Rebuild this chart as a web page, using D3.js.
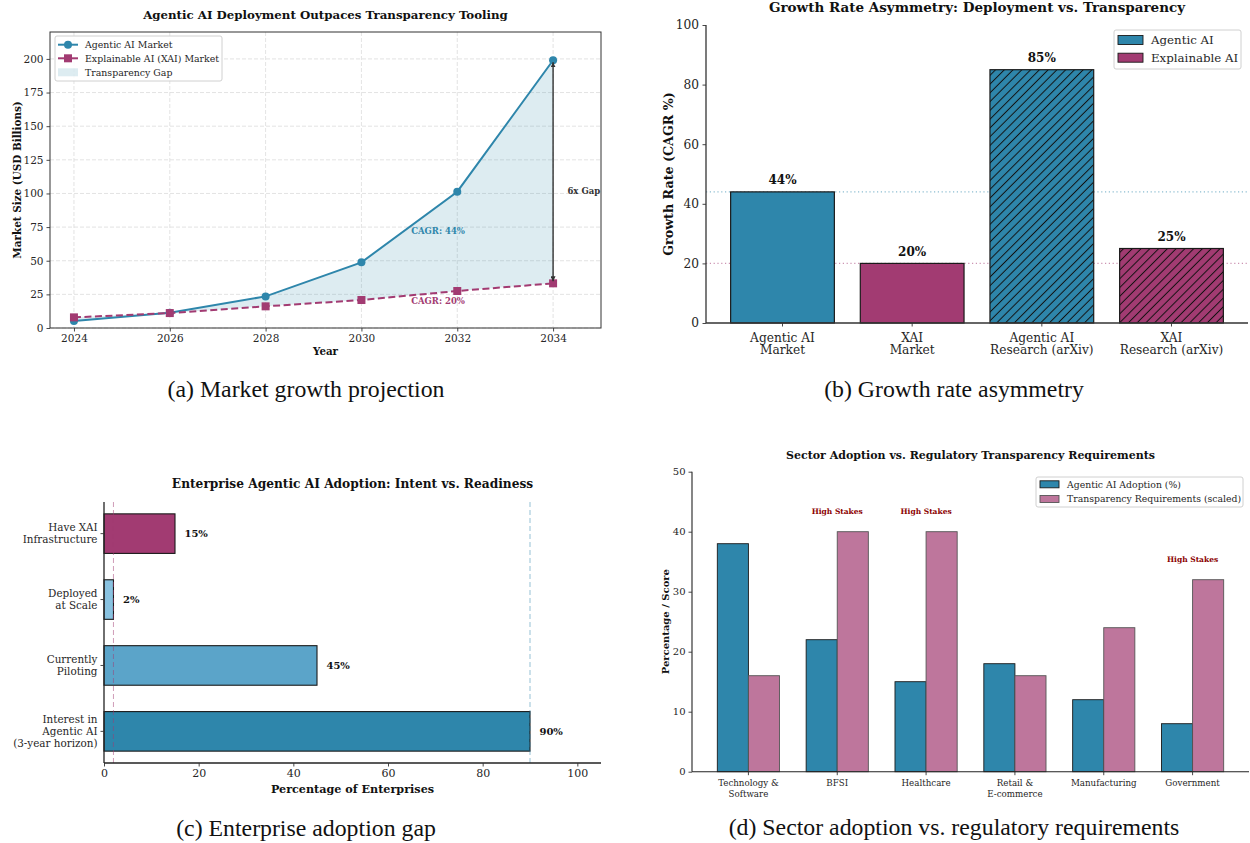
<!DOCTYPE html>
<html>
<head>
<meta charset="utf-8">
<script src="https://cdn.jsdelivr.net/npm/d3@7"></script>
<style>
  body { margin: 0; background: #fff; }
  svg { display: block; }
</style>
</head>
<body>
<svg id="fig" width="1250" height="843"></svg>
<script>
// ---------- (a) market growth projection ----------
const years = [2024, 2026, 2028, 2030, 2032, 2034];
const agenticMarket = [5.2, 11.3, 23.5, 48.8, 101.3, 199];
const xaiMarket = [7.9, 11.1, 16.1, 20.8, 27.5, 33.2];
const marketTicks = [0, 25, 50, 75, 100, 125, 150, 175, 200];

// ---------- (b) growth rate asymmetry ----------
const growthCategories = ["Agentic AI\nMarket", "XAI\nMarket", "Agentic AI\nResearch (arXiv)", "XAI\nResearch (arXiv)"];
const growthValues = [44, 20, 85, 25];
const growthSeries = ["agentic", "xai", "agentic", "xai"];
const growthHatched = [false, false, true, true];
const growthTicks = [0, 20, 40, 60, 80, 100];

// ---------- (c) enterprise adoption gap ----------
const adoptionStages = ["Interest in\nAgentic AI\n(3-year horizon)", "Currently\nPiloting", "Deployed\nat Scale", "Have XAI\nInfrastructure"];
const adoptionValues = [90, 45, 2, 15];
const adoptionColors = ["#2E86AB", "#5BA4C9", "#89C2E0", "#A23B72"];
const adoptionTicks = [0, 20, 40, 60, 80, 100];

// ---------- (d) sector adoption vs. regulation ----------
const sectors = ["Technology &\nSoftware", "BFSI", "Healthcare", "Retail &\nE-commerce", "Manufacturing", "Government"];
const sectorAdoption = [38, 22, 15, 18, 12, 8];
const sectorTransparency = [16, 40, 40, 16, 24, 32];
const sectorHighStakes = [false, true, true, false, false, true];
const sectorTicks = [0, 10, 20, 30, 40, 50];

const BLUE = "#2E86AB";
const MAG = "#A23B72";
const PINK = "#be769c";
const SERIF = '"DejaVu Serif", serif';
const CAPTION = '"Liberation Serif", "Times New Roman", serif';
const INK = "#262626";

const svg = d3.select("#fig");
svg.append("rect").attr("width", 1250).attr("height", 843).attr("fill", "#fff");
const defs = svg.append("defs");

// diagonal hatch fills for the research bars
function hatch(id, color) {
  const p = defs.append("pattern")
    .attr("id", id)
    .attr("patternUnits", "userSpaceOnUse")
    .attr("width", 6.2).attr("height", 6.2)
    .attr("patternTransform", "rotate(45)");
  p.append("rect").attr("width", 6.2).attr("height", 6.2).attr("fill", color);
  p.append("line").attr("x1", 3.1).attr("x2", 3.1).attr("y1", 0).attr("y2", 6.2)
    .attr("stroke", "#111").attr("stroke-width", 1);
}
hatch("hatch-agentic", BLUE);
hatch("hatch-xai", MAG);

defs.append("marker")
  .attr("id", "gap-arrow")
  .attr("viewBox", "0 0 10 10")
  .attr("refX", 10).attr("refY", 5)
  .attr("markerWidth", 5).attr("markerHeight", 5)
  .attr("markerUnits", "userSpaceOnUse")
  .attr("orient", "auto-start-reverse")
  .append("path").attr("d", "M0,0 L10,5 L0,10 z").attr("fill", "#333");

function styleAxis(g, size) {
  g.select(".domain").remove();
  g.selectAll(".tick line").attr("stroke", "#333").attr("stroke-width", 0.9);
  g.selectAll(".tick text").attr("font-family", SERIF).attr("font-size", size).attr("fill", INK);
}

// split "a\nb" tick labels into stacked tspans
function stackLines(g, lineHeight, firstDy, anchor) {
  g.selectAll(".tick text").each(function (d) {
    const t = d3.select(this);
    const lines = String(d).split("\n");
    const x = +t.attr("x") || 0;
    t.text(null).attr("dy", null).attr("text-anchor", anchor);
    const off = typeof firstDy === "function" ? firstDy(lines.length) : firstDy;
    lines.forEach((ln, i) => {
      t.append("tspan").attr("x", x).attr("dy", i === 0 ? off : lineHeight).text(ln);
    });
  });
}

function label(g, txt, x, y, size, opts = {}) {
  return g.append("text")
    .attr("x", x).attr("y", y)
    .attr("font-family", opts.family || SERIF)
    .attr("font-size", size)
    .attr("font-weight", opts.bold ? "bold" : "normal")
    .attr("text-anchor", opts.anchor || "middle")
    .attr("fill", opts.fill || INK)
    .text(txt);
}

function yLabel(g, txt, x, y, size) {
  g.append("text")
    .attr("transform", `translate(${x},${y}) rotate(-90)`)
    .attr("font-family", SERIF).attr("font-size", size).attr("font-weight", "bold")
    .attr("text-anchor", "middle").attr("fill", "#111")
    .text(txt);
}

// ================= panel (a) =================
(function () {
  const box = { l: 50, r: 601, t: 32, b: 328 };
  const g = svg.append("g");
  const x = d3.scaleLinear().domain([2023.5, 2035]).range([box.l, box.r]);
  const y = d3.scaleLinear().domain([0, 220]).range([box.b, box.t]);

  // grid
  g.append("g").selectAll("line").data(years).join("line")
    .attr("x1", d => x(d)).attr("x2", d => x(d)).attr("y1", box.t).attr("y2", box.b)
    .attr("stroke", "#dcdcdc").attr("stroke-width", 0.8).attr("stroke-dasharray", "4,2");
  g.append("g").selectAll("line").data(marketTicks).join("line")
    .attr("x1", box.l).attr("x2", box.r).attr("y1", d => y(d)).attr("y2", d => y(d))
    .attr("stroke", "#dcdcdc").attr("stroke-width", 0.8).attr("stroke-dasharray", "4,2");

  const pts = years.map((yr, i) => ({ yr, a: agenticMarket[i], x: xaiMarket[i] }));

  // transparency gap
  g.append("path").datum(pts)
    .attr("d", d3.area().x(d => x(d.yr)).y0(d => y(d.x)).y1(d => y(d.a)))
    .attr("fill", BLUE).attr("fill-opacity", 0.16);

  g.append("path").datum(pts)
    .attr("d", d3.line().x(d => x(d.yr)).y(d => y(d.a)))
    .attr("fill", "none").attr("stroke", BLUE).attr("stroke-width", 2);
  g.append("path").datum(pts)
    .attr("d", d3.line().x(d => x(d.yr)).y(d => y(d.x)))
    .attr("fill", "none").attr("stroke", MAG).attr("stroke-width", 2)
    .attr("stroke-dasharray", "7,3.5");

  g.append("g").selectAll("circle").data(pts).join("circle")
    .attr("cx", d => x(d.yr)).attr("cy", d => y(d.a)).attr("r", 4).attr("fill", BLUE);
  g.append("g").selectAll("rect").data(pts).join("rect")
    .attr("x", d => x(d.yr) - 4).attr("y", d => y(d.x) - 4)
    .attr("width", 8).attr("height", 8).attr("fill", MAG);

  // gap arrow between the 2034 values
  const last = pts[pts.length - 1];
  g.append("line")
    .attr("x1", x(last.yr)).attr("x2", x(last.yr))
    .attr("y1", y(last.a) + 2).attr("y2", y(last.x) - 2)
    .attr("stroke", "#333").attr("stroke-width", 1.4)
    .attr("marker-start", "url(#gap-arrow)").attr("marker-end", "url(#gap-arrow)");
  label(g, "6x Gap", x(2034.3), y(100) + 1, 8.5, { bold: true, anchor: "start", fill: "#333" });
  label(g, "CAGR: 44%", x(2031.6), y(69.5), 8.5, { bold: true, fill: BLUE });
  label(g, "CAGR: 20%", x(2031.6), y(17.5), 8.5, { bold: true, fill: MAG });

  // frame
  g.append("rect").attr("x", box.l).attr("y", box.t)
    .attr("width", box.r - box.l).attr("height", box.b - box.t)
    .attr("fill", "none").attr("stroke", "#333").attr("stroke-width", 1);

  const ax = g.append("g").attr("transform", `translate(0,${box.b})`)
    .call(d3.axisBottom(x).tickValues(years).tickFormat(d3.format("d")).tickSize(3.5).tickPadding(3));
  styleAxis(ax, 10.5);
  const ay = g.append("g").attr("transform", `translate(${box.l},0)`)
    .call(d3.axisLeft(y).tickValues(marketTicks).tickSize(3.5).tickPadding(3));
  styleAxis(ay, 10.5);

  label(g, "Agentic AI Deployment Outpaces Transparency Tooling", (box.l + box.r) / 2, 19, 11.8, { bold: true, fill: "#111" });
  label(g, "Year", (box.l + box.r) / 2, 355, 10.3, { bold: true, fill: "#111" });
  yLabel(g, "Market Size (USD Billions)", 20.5, (box.t + box.b) / 2, 10.4);

  // legend
  const lg = g.append("g").attr("transform", "translate(55,36)");
  lg.append("rect").attr("width", 167).attr("height", 45).attr("rx", 2)
    .attr("fill", "#fff").attr("fill-opacity", 0.85).attr("stroke", "#d0d0d0");
  const rows = [8.7, 22.3, 36.3];
  lg.append("line").attr("x1", 3).attr("x2", 23).attr("y1", rows[0]).attr("y2", rows[0])
    .attr("stroke", BLUE).attr("stroke-width", 2);
  lg.append("circle").attr("cx", 13).attr("cy", rows[0]).attr("r", 4).attr("fill", BLUE);
  lg.append("line").attr("x1", 3).attr("x2", 23).attr("y1", rows[1]).attr("y2", rows[1])
    .attr("stroke", MAG).attr("stroke-width", 2);
  lg.append("rect").attr("x", 9).attr("y", rows[1] - 4).attr("width", 8).attr("height", 8).attr("fill", MAG);
  lg.append("rect").attr("x", 3).attr("y", rows[2] - 4).attr("width", 20).attr("height", 8)
    .attr("fill", BLUE).attr("fill-opacity", 0.16);
  ["Agentic AI Market", "Explainable AI (XAI) Market", "Transparency Gap"].forEach((t, i) => {
    label(lg, t, 30, rows[i] + 3.4, 9.4, { anchor: "start" });
  });

  label(svg, "(a) Market growth projection", 306, 397, 23.8, { family: CAPTION, fill: "#111" });
})();

// ================= panel (b) =================
(function () {
  const box = { l: 706, r: 1248, t: 25, b: 323 };
  const g = svg.append("g");
  const x = d3.scaleBand().domain(growthCategories).range([box.l, box.r])
    .paddingInner(0.2).paddingOuter(0.19);
  const y = d3.scaleLinear().domain([0, 100]).range([box.b, box.t]);

  // reference levels for the two market CAGRs
  [[growthValues[0], BLUE], [growthValues[1], MAG]].forEach(([v, c]) => {
    g.append("line").attr("x1", box.l).attr("x2", box.r).attr("y1", y(v)).attr("y2", y(v))
      .attr("stroke", c).attr("stroke-opacity", 0.55).attr("stroke-width", 1.1)
      .attr("stroke-dasharray", "1.2,2.6");
  });

  const data = growthCategories.map((c, i) => ({
    c, v: growthValues[i], s: growthSeries[i], h: growthHatched[i]
  }));
  g.append("g").selectAll("rect").data(data).join("rect")
    .attr("x", d => x(d.c)).attr("width", x.bandwidth())
    .attr("y", d => y(d.v)).attr("height", d => y(0) - y(d.v))
    .attr("fill", d => d.h ? `url(#hatch-${d.s})` : (d.s === "agentic" ? BLUE : MAG))
    .attr("stroke", "#1a1a1a").attr("stroke-width", 1.2);

  g.append("g").selectAll("text").data(data).join("text")
    .attr("x", d => x(d.c) + x.bandwidth() / 2).attr("y", d => y(d.v + 2.6))
    .attr("text-anchor", "middle").attr("font-family", SERIF).attr("font-size", 12)
    .attr("font-weight", "bold").attr("fill", "#111")
    .text(d => d.v + "%");

  // spines
  g.append("line").attr("x1", box.l).attr("x2", box.l).attr("y1", box.t).attr("y2", box.b)
    .attr("stroke", "#333").attr("stroke-width", 1.3);
  g.append("line").attr("x1", box.l).attr("x2", box.r).attr("y1", box.b).attr("y2", box.b)
    .attr("stroke", "#333").attr("stroke-width", 1.3);

  const ax = g.append("g").attr("transform", `translate(0,${box.b})`)
    .call(d3.axisBottom(x).tickSize(3.5).tickPadding(3));
  styleAxis(ax, 12.2);
  stackLines(ax, 12.6, "1.0em", "middle");

  const ay = g.append("g").attr("transform", `translate(${box.l},0)`)
    .call(d3.axisLeft(y).tickValues(growthTicks).tickSize(3.5).tickPadding(3.5));
  styleAxis(ay, 12.2);

  label(g, "Growth Rate Asymmetry: Deployment vs. Transparency", (box.l + box.r) / 2, 11.5, 13.5, { bold: true, fill: "#111" });
  yLabel(g, "Growth Rate (CAGR %)", 672.5, (box.t + box.b) / 2, 12.7);

  const lg = g.append("g").attr("transform", "translate(1114,30)");
  lg.append("rect").attr("width", 127).attr("height", 39).attr("rx", 2)
    .attr("fill", "#fff").attr("stroke", "#d0d0d0");
  [["Agentic AI", BLUE], ["Explainable AI", MAG]].forEach(([t, c], i) => {
    const cy = 10 + i * 17.7;
    lg.append("rect").attr("x", 4).attr("y", cy - 4.5).attr("width", 25).attr("height", 9)
      .attr("fill", c).attr("stroke", "#1a1a1a").attr("stroke-width", 0.9);
    label(lg, t, 37, cy + 4.2, 11.8, { anchor: "start" });
  });

  label(svg, "(b) Growth rate asymmetry", 954, 397, 23.8, { family: CAPTION, fill: "#111" });
})();

// ================= panel (c) =================
(function () {
  const box = { l: 104, r: 601, t: 502, b: 763 };
  const g = svg.append("g");
  const x = d3.scaleLinear().domain([0, 105]).range([box.l, box.r]);
  const y = d3.scaleBand().domain(adoptionStages).range([box.b, box.t])
    .paddingInner(0.4).paddingOuter(0.18);

  const data = adoptionStages.map((s, i) => ({ s, v: adoptionValues[i], c: adoptionColors[i] }));

  g.append("g").selectAll("rect").data(data).join("rect")
    .attr("x", x(0)).attr("width", d => x(d.v) - x(0))
    .attr("y", d => y(d.s)).attr("height", y.bandwidth())
    .attr("fill", d => d.c).attr("stroke", "#1a1a1a").attr("stroke-width", 1.1);

  // markers for the deployed-at-scale and interest levels
  [[adoptionValues[2], MAG], [adoptionValues[0], BLUE]].forEach(([v, c]) => {
    g.append("line").attr("x1", x(v)).attr("x2", x(v)).attr("y1", box.t).attr("y2", box.b)
      .attr("stroke", c).attr("stroke-opacity", 0.5).attr("stroke-width", 1)
      .attr("stroke-dasharray", "5,3");
  });

  g.append("g").selectAll("text").data(data).join("text")
    .attr("x", d => x(d.v + 2)).attr("y", d => y(d.s) + y.bandwidth() / 2 + 3.6)
    .attr("font-family", SERIF).attr("font-size", 10).attr("font-weight", "bold").attr("fill", "#111")
    .text(d => d.v + "%");

  g.append("line").attr("x1", box.l).attr("x2", box.l).attr("y1", box.t).attr("y2", box.b)
    .attr("stroke", "#222").attr("stroke-width", 1.3);
  g.append("line").attr("x1", box.l).attr("x2", box.r).attr("y1", box.b).attr("y2", box.b)
    .attr("stroke", "#222").attr("stroke-width", 1.3);

  const ax = g.append("g").attr("transform", `translate(0,${box.b})`)
    .call(d3.axisBottom(x).tickValues(adoptionTicks).tickSize(3.5).tickPadding(3));
  styleAxis(ax, 11);
  const ay = g.append("g").attr("transform", `translate(${box.l},0)`)
    .call(d3.axisLeft(y).tickSize(3.5).tickPadding(3));
  styleAxis(ay, 10.4);
  stackLines(ay, 12, n => (0.35 - (n - 1) * 0.58) + "em", "end");

  label(g, "Enterprise Agentic AI Adoption: Intent vs. Readiness", (box.l + box.r) / 2, 488, 12.2, { bold: true, fill: "#111" });
  label(g, "Percentage of Enterprises", (box.l + box.r) / 2, 793, 11.2, { bold: true, fill: "#111" });

  label(svg, "(c) Enterprise adoption gap", 306, 836, 23.8, { family: CAPTION, fill: "#111" });
})();

// ================= panel (d) =================
(function () {
  const box = { l: 692, r: 1249, t: 471.7, b: 771.7 };
  const g = svg.append("g");
  const x = d3.scaleBand().domain(sectors).range([box.l, box.r])
    .paddingInner(0.3).paddingOuter(0.285);
  const y = d3.scaleLinear().domain([0, 50]).range([box.b, box.t]);
  const half = x.bandwidth() / 2;

  const data = sectors.map((s, i) => ({
    s, a: sectorAdoption[i], t: sectorTransparency[i], hs: sectorHighStakes[i]
  }));

  g.append("g").selectAll("rect").data(data).join("rect")
    .attr("x", d => x(d.s)).attr("width", half)
    .attr("y", d => y(d.a)).attr("height", d => y(0) - y(d.a))
    .attr("fill", BLUE).attr("stroke", "#1a1a1a").attr("stroke-width", 0.9);
  g.append("g").selectAll("rect").data(data).join("rect")
    .attr("x", d => x(d.s) + half).attr("width", half)
    .attr("y", d => y(d.t)).attr("height", d => y(0) - y(d.t))
    .attr("fill", PINK).attr("stroke", "#555").attr("stroke-width", 0.9);

  g.append("g").selectAll("text").data(data.filter(d => d.hs)).join("text")
    .attr("x", d => x(d.s) + half).attr("y", d => y(d.t + 3.5) + 2.8)
    .attr("text-anchor", "middle").attr("font-family", SERIF).attr("font-size", 7.5)
    .attr("font-weight", "bold").attr("fill", "#8B0000")
    .text("High Stakes");

  g.append("line").attr("x1", box.l).attr("x2", box.l).attr("y1", box.t).attr("y2", box.b)
    .attr("stroke", "#222").attr("stroke-width", 1.1);
  g.append("line").attr("x1", box.l).attr("x2", box.r).attr("y1", box.b).attr("y2", box.b)
    .attr("stroke", "#222").attr("stroke-width", 1.1);

  const ax = g.append("g").attr("transform", `translate(0,${box.b})`)
    .call(d3.axisBottom(x).tickSize(3.5).tickPadding(3));
  styleAxis(ax, 8.7);
  stackLines(ax, 10.6, "0.9em", "middle");
  const ay = g.append("g").attr("transform", `translate(${box.l},0)`)
    .call(d3.axisLeft(y).tickValues(sectorTicks).tickSize(3.5).tickPadding(3));
  styleAxis(ay, 10);

  label(g, "Sector Adoption vs. Regulatory Transparency Requirements", (box.l + box.r) / 2, 459, 11, { bold: true, fill: "#111" });
  yLabel(g, "Percentage / Score", 668.5, (box.t + box.b) / 2, 10);

  const lg = g.append("g").attr("transform", "translate(1036,477)");
  lg.append("rect").attr("width", 207).attr("height", 30).attr("rx", 2)
    .attr("fill", "#fff").attr("stroke", "#d0d0d0");
  [["Agentic AI Adoption (%)", BLUE, "#1a1a1a"], ["Transparency Requirements (scaled)", PINK, "#555"]].forEach(([t, c, e], i) => {
    const cy = 7.3 + i * 14.7;
    lg.append("rect").attr("x", 4).attr("y", cy - 3.5).attr("width", 19).attr("height", 7)
      .attr("fill", c).attr("stroke", e).attr("stroke-width", 0.9);
    label(lg, t, 31, cy + 3.3, 9.3, { anchor: "start" });
  });

  label(svg, "(d) Sector adoption vs. regulatory requirements", 954, 835, 23.8, { family: CAPTION, fill: "#111" });
})();
</script>
</body>
</html>
